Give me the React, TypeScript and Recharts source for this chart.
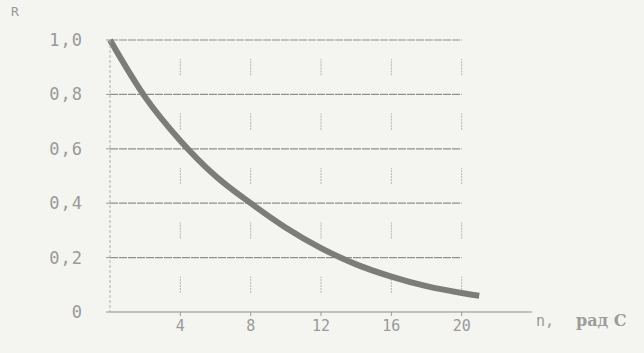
import React from 'react';
import { LineChart, Line, XAxis, YAxis, ReferenceLine } from 'recharts';

// curve
const nValues = [0, 2, 4, 6, 8, 10, 12, 14, 16, 18, 20, 21];
const rValues = [1.0, 0.79, 0.63, 0.5, 0.4, 0.31, 0.235, 0.175, 0.13, 0.095, 0.07, 0.06];

const xTicks = [4, 8, 12, 16, 20];
const yTicks = [0, 0.2, 0.4, 0.6, 0.8, 1.0];
const yLabels = ['0', '0,2', '0,4', '0,6', '0,8', '1,0'];
const gridLevels = [0.2, 0.4, 0.6, 0.8, 1.0];
const bandMids = [0.1, 0.3, 0.5, 0.7, 0.9];

const data = nValues.map((n, i) => ({ n, r: rValues[i] }));

const ink = '#9a9a98';
const mono = 'DejaVu Sans Mono, monospace';

export default function App() {
  return (
    <div style={{ position: 'absolute', left: 0, top: 0, width: 644, height: 353, background: '#f4f4f1' }}>
      <div style={{ position: 'absolute', left: 11, top: 4, fontFamily: mono, fontSize: 13, color: ink }}>R</div>
      <LineChart width={644} height={353} data={data} margin={{ top: 40, right: 112, bottom: 11, left: 50 }}>
        <XAxis
          dataKey="n"
          type="number"
          domain={[0, 24]}
          ticks={xTicks}
          tickLine={{ stroke: ink }}
          tickSize={4}
          axisLine={{ stroke: '#8c8c8a', strokeWidth: 1.2 }}
          tick={{ fill: ink, fontFamily: mono, fontSize: 15 }}
          tickMargin={4}
          height={30}
        />
        <YAxis
          dataKey="r"
          type="number"
          domain={[0, 1]}
          ticks={yTicks}
          tickFormatter={(v: number) => yLabels[yTicks.indexOf(v)]}
          tickLine={{ stroke: ink }}
          tickSize={4}
          axisLine={{ stroke: '#b0b0ae', strokeDasharray: '3 2' }}
          tick={{ fill: ink, fontFamily: mono, fontSize: 17, letterSpacing: 1 }}
          tickMargin={23}
          width={60}
        />
        {gridLevels.map((y) => (
          <ReferenceLine
            key={'h' + y}
            segment={[{ x: 0, y }, { x: 20, y }]}
            stroke="#8e8e8c"
            strokeWidth={1.2}
            strokeDasharray="8 1"
          />
        ))}
        {xTicks.map((x) =>
          bandMids.map((m) => (
            <ReferenceLine
              key={'v' + x + '-' + m}
              segment={[{ x, y: m - 0.03 }, { x, y: m + 0.03 }]}
              stroke="#b4b4b2"
              strokeDasharray="2 1"
            />
          ))
        )}
        <Line
          type="monotone"
          dataKey="r"
          stroke="#7c7c7a"
          strokeWidth={6}
          dot={false}
          isAnimationActive={false}
        />
      </LineChart>
      <div style={{ position: 'absolute', left: 536, top: 312, fontFamily: mono, fontSize: 15, color: ink }}>n,</div>
      <div style={{ position: 'absolute', left: 576, top: 311, fontFamily: 'DejaVu Serif, serif', fontSize: 16, fontWeight: 'bold', color: '#9c9c9a' }}>рад С</div>
    </div>
  );
}
